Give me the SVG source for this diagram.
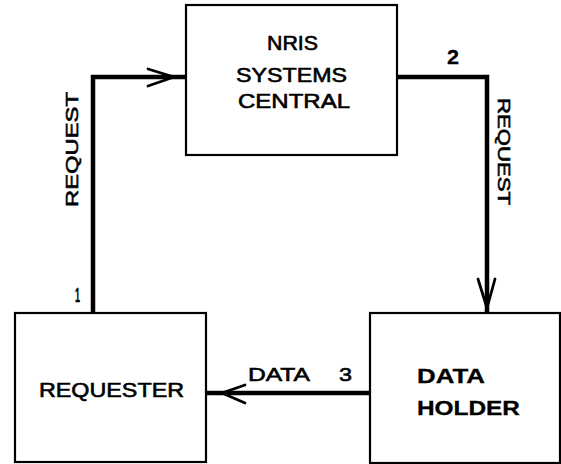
<svg xmlns="http://www.w3.org/2000/svg" width="561" height="464" viewBox="0 0 561 464">
<style>
.box{fill:#fff;stroke:#000;stroke-width:2.2}
.conn{fill:none;stroke:#000;stroke-width:4.5;stroke-linejoin:miter;stroke-linecap:square}
.head{fill:none;stroke:#000;stroke-width:2.8;stroke-linecap:round;stroke-linejoin:round}
.t{font-family:"Liberation Sans",Arial,sans-serif;font-size:20px;fill:#000;stroke:#000;stroke-width:0.6}
.b{font-weight:bold;stroke-width:0.3}
</style>
<rect width="561" height="464" fill="#fff"/>
<g id="connectors">
<path class="conn" d="M93,313 V77 H186"/>
<polyline class="head" points="148,69 174,77 148,86"/>
<path class="conn" d="M397,77 H487 V313"/>
<polyline class="head" points="478,279 487,308 495,279"/>
<path class="conn" d="M370,393 H206"/>
<polyline class="head" points="245,385 222,393 245,403"/>
<text class="t" transform="translate(78,207) rotate(-90)" textLength="115" lengthAdjust="spacingAndGlyphs" style="font-size:17px">REQUEST</text>
<text class="t" transform="translate(498,98) rotate(90)" textLength="107" lengthAdjust="spacingAndGlyphs" style="font-size:17px">REQUEST</text>
<text class="t b" x="80" y="302" text-anchor="end" textLength="5" lengthAdjust="spacingAndGlyphs" style="font-size:20px">1</text>
<text class="t b" x="447" y="64" textLength="12" lengthAdjust="spacingAndGlyphs" style="font-size:21px">2</text>
<text class="t" y="381" style="font-size:19px"><tspan x="248" textLength="62" lengthAdjust="spacingAndGlyphs">DATA</tspan><tspan x="339" textLength="13" lengthAdjust="spacingAndGlyphs">3</tspan></text>
</g>
<g id="nris">
<rect class="box" x="186" y="5" width="211" height="150"/>
<text class="t" x="267" y="50" textLength="51" lengthAdjust="spacingAndGlyphs">NRIS</text>
<text class="t" x="236" y="82" textLength="111" lengthAdjust="spacingAndGlyphs">SYSTEMS</text>
<text class="t" x="238" y="108" textLength="112" lengthAdjust="spacingAndGlyphs">CENTRAL</text>
</g>
<g id="requester">
<rect class="box" x="15" y="313" width="191" height="149"/>
<text class="t" x="39" y="397" textLength="145" lengthAdjust="spacingAndGlyphs">REQUESTER</text>
</g>
<g id="dataholder">
<rect class="box" x="370" y="313" width="190" height="150"/>
<text class="t b" x="417" y="383" textLength="68" lengthAdjust="spacingAndGlyphs">DATA</text>
<text class="t b" x="417" y="415" textLength="103" lengthAdjust="spacingAndGlyphs">HOLDER</text>
</g>
</svg>
